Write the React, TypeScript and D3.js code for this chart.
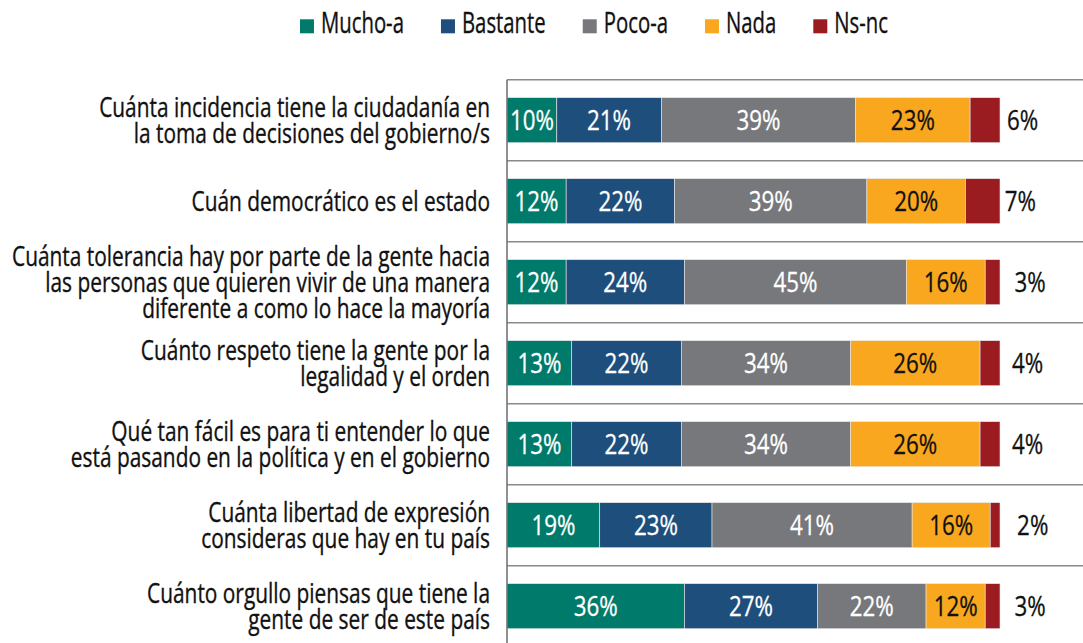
import React from "react";
import * as d3 from "d3";

const categories: string[][] = [
  ["Cuánta incidencia tiene la ciudadanía en", "la toma de decisiones del gobierno/s"],
  ["Cuán democrático es el estado"],
  ["Cuánta tolerancia hay por parte de la gente hacia", "las personas que quieren vivir de una manera", "diferente a como lo hace la mayoría"],
  ["Cuánto respeto tiene la gente por la", "legalidad y el orden"],
  ["Qué tan fácil es para ti entender lo que", "está pasando en la política y en el gobierno"],
  ["Cuánta libertad de expresión", "consideras que hay en tu país"],
  ["Cuánto orgullo piensas que tiene la", "gente de ser de este país"],
];

const seriesNames = ["Mucho-a", "Bastante", "Poco-a", "Nada", "Ns-nc"];
const mucho = [10, 12, 12, 13, 13, 19, 36];
const bastante = [21, 22, 24, 22, 22, 23, 27];
const poco = [39, 39, 45, 34, 34, 41, 22];
const nada = [23, 20, 16, 26, 26, 16, 12];
const nsnc = [6, 7, 3, 4, 4, 2, 3];
const colors = ["#007A6A", "#1E4E7B", "#77787B", "#F9A71F", "#9A1B20"];

const W = 1083;
const H = 643;
const FONT = "'Open Sans', 'Noto Sans', sans-serif";
const LABEL_SIZE = 27;
const VALUE_SIZE = 27.5;
const LEGEND_SIZE = 29;

let ctx: CanvasRenderingContext2D | null = null;
function measure(text: string, size: number): number {
  if (!ctx) ctx = document.createElement("canvas").getContext("2d");
  if (!ctx) return text.length * size * 0.5;
  ctx.font = `${size}px ${FONT}`;
  return ctx.measureText(text).width;
}

export default function App() {
  const rows = categories.map((c, i) => ({
    key: String(i),
    "Mucho-a": mucho[i],
    Bastante: bastante[i],
    "Poco-a": poco[i],
    Nada: nada[i],
    "Ns-nc": nsnc[i],
  }));
  const stack = d3.stack<any>().keys(seriesNames).offset(d3.stackOffsetExpand);
  const stacked = stack(rows);

  const x = d3.scaleLinear().domain([0, 1]).range([507, 1000]);
  const y = d3
    .scaleBand<string>()
    .domain(rows.map((r) => r.key))
    .range([79.7, 79.7 + 7 * 81])
    .paddingInner(0.444)
    .paddingOuter(0.222);
  const step = y.step();
  const bh = y.bandwidth();

  // horizontal condensation factors to emulate a condensed font
  const k = 391 / measure(categories[0][0], LABEL_SIZE);
  const kV = 44 / measure("10%", VALUE_SIZE);
  const kL = 83 / measure("Mucho-a", LEGEND_SIZE);
  const capOff = LABEL_SIZE * 0.357;
  const capOffV = VALUE_SIZE * 0.357;
  const lineH = 26;

  // legend layout
  const sq = 14;
  const gapSq = 7;
  const gapItem = 37;
  const widths = seriesNames.map((n) => measure(n, LEGEND_SIZE) * kL);
  const total = widths.reduce((a, w) => a + sq + gapSq + w, 0) + gapItem * (seriesNames.length - 1);
  let lx = 594 - total / 2;
  const legendItems = seriesNames.map((n, i) => {
    const item = { name: n, x: lx, color: colors[i], w: widths[i] };
    lx += sq + gapSq + widths[i] + gapItem;
    return item;
  });
  const legendBase = 33.3;

  const y0 = y.range()[0];

  return (
    <svg
      width={W}
      height={H}
      style={{ position: "absolute", left: 0, top: 0, background: "#fff" }}
      fontFamily={FONT}
    >
      {/* legend */}
      {legendItems.map((it) => (
        <g key={it.name}>
          <rect x={it.x} y={legendBase - sq} width={sq} height={sq} fill={it.color} />
          <text
            transform={`translate(${it.x + sq + gapSq},${legendBase}) scale(${kL},1)`}
            fontSize={LEGEND_SIZE}
            fill="#111"
            stroke="#111"
            strokeWidth={0.35}
          >
            {it.name}
          </text>
        </g>
      ))}

      {/* gridlines */}
      {d3.range(8).map((i) => (
        <line
          key={"g" + i}
          x1={507}
          x2={W}
          y1={y0 + i * step}
          y2={y0 + i * step}
          stroke="#8a8a8a"
          strokeWidth={1.5}
        />
      ))}

      {/* bars */}
      {stacked.map((s, si) =>
        s.map((d, ri) => (
          <rect
            key={`${si}-${ri}`}
            x={x(d[0])}
            y={y(String(ri))!}
            width={x(d[1]) - x(d[0])}
            height={bh}
            fill={colors[si]}
            stroke="#e8e8e8"
            strokeWidth={0.6}
          />
        ))
      )}

      {/* value labels */}
      {stacked.map((s, si) =>
        s.map((d, ri) => {
          const v = (rows[ri] as any)[seriesNames[si]];
          const cx = (x(d[0]) + x(d[1])) / 2;
          const cy = y(String(ri))! + bh / 2 + capOffV;
          const outside = si === 4;
          const col = si < 3 ? "#fff" : "#111";
          return (
            <text
              key={`t${si}-${ri}`}
              transform={`translate(${outside ? cx + 22 : cx},${cy}) scale(${kV},1)`}
              textAnchor={outside ? "start" : "middle"}
              fontSize={VALUE_SIZE}
              fill={col}
              stroke={col}
              strokeWidth={0.3}
            >
              {v}%
            </text>
          );
        })
      )}

      {/* axis line */}
      <line x1={507} x2={507} y1={y0} y2={H} stroke="#6b6b6b" strokeWidth={1.5} />

      {/* category labels */}
      {categories.map((lines, ri) => {
        const cy = y(String(ri))! + bh / 2;
        return lines.map((ln, li) => (
          <text
            key={`c${ri}-${li}`}
            transform={`translate(490,${cy + capOff + (li - (lines.length - 1) / 2) * lineH}) scale(${k},1)`}
            textAnchor="end"
            fontSize={LABEL_SIZE}
            fill="#111"
            stroke="#111"
            strokeWidth={0.35}
          >
            {ln}
          </text>
        ));
      })}
    </svg>
  );
}
